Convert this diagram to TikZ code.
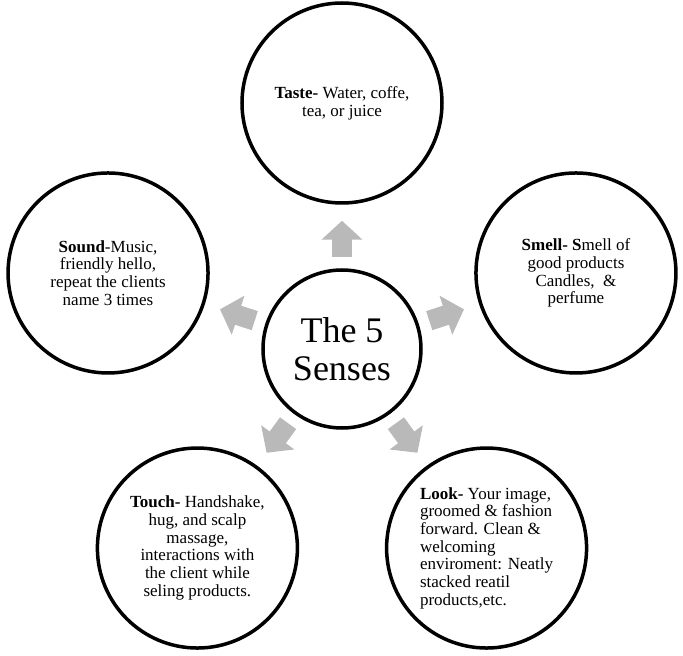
\documentclass[tikz,border=0pt]{standalone}
\usepackage{fontspec}
\setmainfont{Liberation Serif}
\usetikzlibrary{arrows.meta,shadows}
\definecolor{arrowgray}{RGB}{185,185,185}
\tikzset{
  hub/.style={circle, draw, line width=3.5pt, fill=white, minimum size=158pt, inner sep=0pt,
    align=center, font=\fontsize{36pt}{38pt}\selectfont,
    drop shadow={opacity=0.2, shadow xshift=1pt, shadow yshift=-1.5pt}},
  sense/.style={circle, draw, line width=3.5pt, fill=white, minimum size=200pt, inner sep=0pt,
    align=center, font=\fontsize{17pt}{17.7pt}\selectfont,
    drop shadow={opacity=0.2, shadow xshift=1pt, shadow yshift=-1.5pt}},
  push/.style={draw=arrowgray, line width=20pt, -{Triangle[width=40pt,length=19pt]},
    shorten <=11pt, shorten >=16pt}
}
\begin{document}
\begin{tikzpicture}
      \useasboundingbox (-342pt,-307pt) rectangle (341pt,349pt);
      \draw
        (0,0) node[hub] (hub){The 5\\Senses}
        (90:246pt) node[sense] (taste){\textbf{Taste-} Water, coffe,\\tea, or juice}
        (18:246pt) node[sense] (smell){\textbf{Smell- S}mell of\\good products\\Candles,\ \ \&\\perfume}
        (162:246pt) node[sense] (sound){\textbf{Sound}-Music,\\friendly hello,\\repeat the clients\\name 3 times}
        (234:246pt) node[sense] (touch){\textbf{Touch-} Handshake,\\hug, and scalp\\massage,\\interactions with\\the client while\\seling products.}
        (306:246pt) node[sense, align=left] (look){\textbf{Look-} Your image,\\groomed \& fashion\\forward. Clean \&\\welcoming\\enviroment: Neatly\\stacked reatil\\products,etc.};
      \begin{scope}[push]
        \draw (hub) to (taste);
        \draw (hub) to (smell);
        \draw (hub) to (sound);
        \draw (hub) to (touch);
        \draw (hub) to (look);
      \end{scope}
    \end{tikzpicture}
\end{document}
